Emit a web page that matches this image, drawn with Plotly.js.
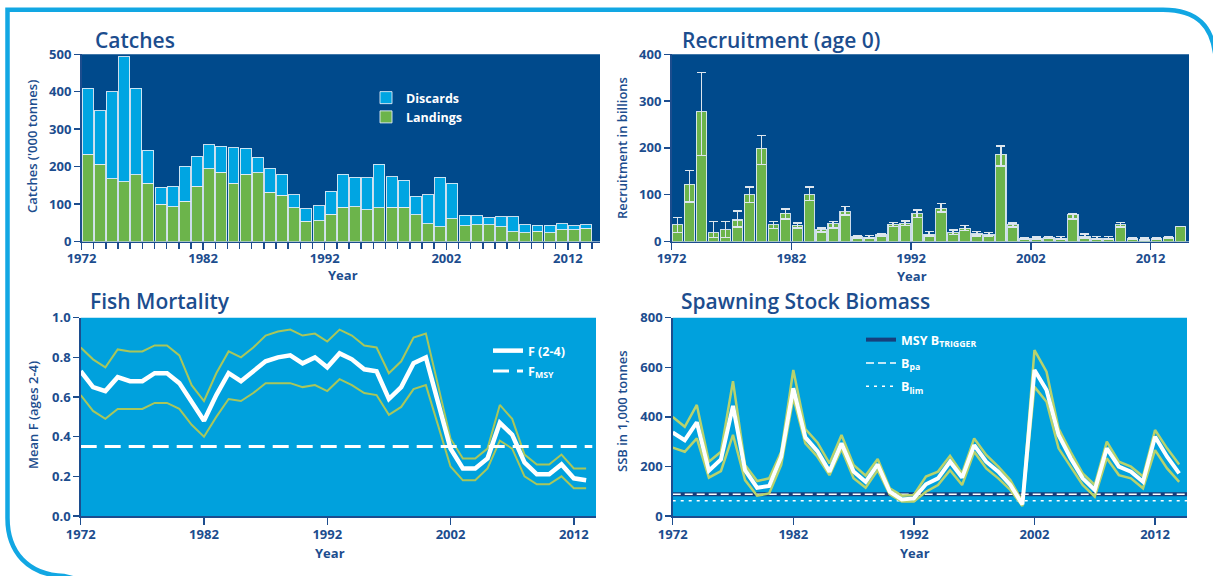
<!DOCTYPE html>
<html><head><meta charset="utf-8">
<script src="https://cdn.plot.ly/plotly-3.0.1.min.js"></script>
<style>html,body{margin:0;padding:0;background:#fff;}#chart{width:1213px;height:576px;}</style>
</head><body><div id="chart"></div>
<script>
function yearsFrom(a, b){ const r=[]; for(let y=a;y<=b;y++) r.push(y); return r; }

// ---- Catches ('000 tonnes), 1972-2013
const catchYears = yearsFrom(1972, 2013);
const landings = [233,207,167,160,178,156,99,93,108,147, 194,185,156,180,183,132,123,90,54,56,
                  73,92,93,85,90,91,91,71,47,40, 61,42,45,45,39,26,24,27,24,32, 32,36];
const discards = [177,142,233,334,232,88,46,54,93,81, 65,69,94,69,42,63,57,35,34,40,
                  61,87,78,85,116,82,72,50,78,131, 94,28,24,18,27,40,21,16,19,15, 10,9];

// ---- Recruitment (age 0), billions, 1972-2014
const recYears = yearsFrom(1972, 2014);
const recruitment = [36,122,277,19,25,46,100,199,36,60, 35,100,25,38,64,10,9,14,37,38,
                     59,15,71,19,28,16,14,186,36,6, 7,8,7,57,11,7,7,36,6,4, 6,9,32];
const recLow  = [19,84,184,9,9,31,83,165,28,48, 29,88,20,29,57,8,7,11,32,34,
                 51,12,63,15,24,12,11,161,31,4, 5,6,5,48,8,5,5,31,4,3, 4,7,32];
const recHigh = [51,152,361,43,43,65,116,227,43,69, 40,116,29,43,75,12,13,16,41,44,
                 67,21,81,25,34,21,19,204,40,8, 10,11,11,59,16,11,11,41,8,7, 8,11,32];

// ---- Fishing mortality F(2-4), 1972-2013
const fYears = yearsFrom(1972, 2013);
const fMean = [0.73,0.65,0.63,0.70,0.68,0.68,0.72,0.72,0.67,0.57, 0.48,0.61,0.72,0.68,0.73,0.78,0.80,0.81,0.77,0.80,
               0.75,0.82,0.79,0.74,0.73,0.59,0.65,0.77,0.80,0.57, 0.34,0.24,0.24,0.29,0.47,0.41,0.27,0.21,0.21,0.26, 0.19,0.18];
const fHigh = [0.85,0.79,0.75,0.84,0.83,0.83,0.86,0.86,0.81,0.66, 0.58,0.72,0.83,0.80,0.85,0.91,0.93,0.94,0.91,0.92,
               0.88,0.94,0.91,0.86,0.85,0.72,0.78,0.90,0.92,0.66, 0.39,0.29,0.29,0.34,0.56,0.49,0.31,0.26,0.26,0.31, 0.24,0.24];
const fLow  = [0.61,0.53,0.49,0.54,0.54,0.54,0.57,0.57,0.54,0.46, 0.40,0.50,0.59,0.58,0.62,0.67,0.67,0.67,0.65,0.66,
               0.63,0.69,0.66,0.62,0.61,0.51,0.55,0.64,0.66,0.46, 0.25,0.18,0.18,0.24,0.38,0.34,0.20,0.16,0.16,0.20, 0.14,0.14];
const FMSY = 0.35;

// ---- Spawning stock biomass ('000 t), 1972-2014
const ssbYears = yearsFrom(1972, 2014);
const ssb     = [337,306,378,183,228,444,185,114,121,239, 515,317,262,179,293,179,138,208,98,67,
                 71,128,152,219,155,286,219,179,125,47, 589,508,327,233,152,105,273,199,179,138, 320,239,172];
const ssbHigh = [400,360,448,219,259,544,206,141,152,259, 589,351,297,212,327,206,163,230,112,82,
                 85,159,179,243,172,313,246,199,145,58, 669,582,353,259,172,125,300,219,199,159, 347,273,208];
const ssbLow  = [276,259,313,155,181,327,145,82,91,206, 477,293,239,165,270,152,114,185,87,58,
                 58,98,125,185,125,259,192,152,105,40, 521,461,273,199,125,78,233,165,152,112, 266,192,138];
const BTRIGGER = 88, BPA = 88, BLIM = 62;

// ---- styling
const W = 1213, H = 576;
const px = x => x / W, py = y => 1 - y / H;
const NAVY = '#1c4d8e', DARK = '#004a8c', LIGHT = '#00a1dd', DISC = '#00a5e2', GREEN = '#6cb44b';
const BAND_F = '#a9c65b', BAND_S = '#b8d26c', FONT = "'Open Sans', 'Noto Sans', sans-serif";
const tickFont = {family: FONT, size: 13, color: NAVY, weight: 'bold'};

function xAxis(dom, range, anchor, minor, standoff){
  const a = {domain: dom, range: range, anchor: anchor, tick0: 1972, dtick: 10, ticks: 'outside', ticklen: 7,
    tickwidth: 1.5, tickcolor: NAVY, showline: true, linecolor: NAVY, linewidth: 1.5, showgrid: false,
    zeroline: false, tickfont: tickFont, fixedrange: true, ticklabelstandoff: standoff};
  if (minor) a.minor = {dtick: 1, tick0: 1972, ticks: 'outside', ticklen: 6, tickwidth: 1.5, tickcolor: NAVY, showgrid: false};
  return a;
}
function yAxis(dom, range, dtick, anchor, fmt){
  return {domain: dom, range: range, dtick: dtick, anchor: anchor, ticks: 'outside', ticklen: 6,
    tickwidth: 1.5, tickcolor: NAVY, showline: true, linecolor: NAVY, linewidth: 1.5, showgrid: false,
    zeroline: false, tickfont: tickFont, tickformat: fmt || '', fixedrange: true};
}

const barLine = {color: 'rgba(225,236,246,0.9)', width: 1};
const traces = [
  {type: 'bar', x: catchYears, y: landings, name: 'Landings', xaxis: 'x', yaxis: 'y', offset: 0.05, width: 0.9,
   marker: {color: GREEN, line: barLine}, legend: 'legend'},
  {type: 'bar', x: catchYears, y: discards, name: 'Discards', xaxis: 'x', yaxis: 'y', offset: 0.05, width: 0.9,
   marker: {color: DISC, line: barLine}, legend: 'legend'},
  {type: 'bar', x: recYears, y: recruitment, name: 'Recruitment', xaxis: 'x2', yaxis: 'y2', offset: 0.07, width: 0.86,
   marker: {color: GREEN, line: {color: 'rgba(225,236,246,0.9)', width: 1.2}}, showlegend: false,
   error_y: {type: 'data', symmetric: false,
     array: recHigh.map((v, i) => v - recruitment[i]),
     arrayminus: recruitment.map((v, i) => v - recLow[i]),
     color: '#dde6ee', thickness: 1.5, width: 4.5}},
  {type: 'scatter', mode: 'lines', x: fYears, y: fHigh, xaxis: 'x3', yaxis: 'y3', line: {color: BAND_F, width: 2}, showlegend: false},
  {type: 'scatter', mode: 'lines', x: fYears, y: fLow, xaxis: 'x3', yaxis: 'y3', line: {color: BAND_F, width: 2}, showlegend: false},
  {type: 'scatter', mode: 'lines', x: fYears, y: fMean, xaxis: 'x3', yaxis: 'y3', name: 'F (2-4)',
   line: {color: '#ffffff', width: 4.5}, legend: 'legend2', legendgroup: 'f1'},
  {type: 'scatter', mode: 'lines', x: [1972, 2013.5], y: [FMSY, FMSY], xaxis: 'x3', yaxis: 'y3', name: 'F<sub>MSY</sub>',
   line: {color: '#ffffff', width: 3, dash: '16px,8px'}, legend: 'legend2', legendgroup: 'f2'},
  {type: 'scatter', mode: 'lines', x: [1972, 2014.65], y: [BTRIGGER, BTRIGGER], xaxis: 'x4', yaxis: 'y4',
   name: 'MSY B<sub>TRIGGER</sub>', line: {color: '#163f7c', width: 4}, legend: 'legend3', legendgroup: 's1'},
  {type: 'scatter', mode: 'lines', x: [1972, 2014.65], y: [BPA, BPA], xaxis: 'x4', yaxis: 'y4',
   name: 'B<sub>pa</sub>', line: {color: '#ffffff', width: 1.5, dash: '8px,4px'}, legend: 'legend3', legendgroup: 's2'},
  {type: 'scatter', mode: 'lines', x: [1972, 2014.65], y: [BLIM, BLIM], xaxis: 'x4', yaxis: 'y4',
   name: 'B<sub>lim</sub>', line: {color: '#ffffff', width: 1.5, dash: '3px,5px'}, legend: 'legend3', legendgroup: 's3'},
  {type: 'scatter', mode: 'lines', x: ssbYears, y: ssbHigh, xaxis: 'x4', yaxis: 'y4', line: {color: BAND_S, width: 2.5}, showlegend: false},
  {type: 'scatter', mode: 'lines', x: ssbYears, y: ssbLow, xaxis: 'x4', yaxis: 'y4', line: {color: BAND_S, width: 2.5}, showlegend: false},
  {type: 'scatter', mode: 'lines', x: ssbYears, y: ssb, xaxis: 'x4', yaxis: 'y4', line: {color: '#ffffff', width: 4}, showlegend: false}
];

function bg(n, color){
  const s = n === 1 ? '' : String(n);
  return {type: 'rect', xref: 'x' + s + ' domain', yref: 'y' + s + ' domain', x0: 0, x1: 1, y0: 0, y1: 1,
          fillcolor: color, line: {width: 0}, layer: 'below'};
}
const P = (x, y) => px(x).toFixed(5) + ',' + py(y).toFixed(5);
const borderPath = 'M' + P(1163, 9.7) + ' L' + P(7.5, 9.7) + ' L' + P(7.5, 518) +
  ' C' + P(7.5, 552) + ' ' + P(28, 575) + ' ' + P(64, 576) + ' L' + P(80, 580) +
  ' M' + P(1163, 9.7) + ' C' + P(1196, 9.7) + ' ' + P(1214, 25) + ' ' + P(1216, 62) + ' L' + P(1217, 580);

function ann(text, x, y, size, opts){
  return Object.assign({text: text, x: px(x), y: py(y), xref: 'paper', yref: 'paper', showarrow: false,
    xanchor: 'left', yanchor: 'middle', font: {family: FONT, size: size, color: NAVY}}, opts || {});
}
const titleFont = {family: FONT, size: 21, color: NAVY, weight: 600};
const axFont = {family: FONT, size: 13, color: NAVY, weight: 600};
const yearFont = {family: FONT, size: 13, color: NAVY, weight: 'bold'};
const annotations = [
  ann('Catches', 93, 40, 21, {font: titleFont}),
  ann('Recruitment (age 0)', 680, 40, 21, {font: titleFont}),
  ann('Fish Mortality', 88, 301, 21, {font: titleFont}),
  ann('Spawning Stock Biomass', 679, 301, 21, {font: titleFont}),
  ann("Catches ('000 tonnes)", 32, 147, 13, {xanchor: 'center', textangle: -90, font: axFont}),
  ann('Recruitment in billions', 622, 148, 13, {xanchor: 'center', textangle: -90, font: axFont}),
  ann('Mean F (ages 2-4)', 33, 415, 13, {xanchor: 'center', textangle: -90, font: axFont}),
  ann('SSB in 1,000 tonnes', 622, 411, 13, {xanchor: 'center', textangle: -90, font: axFont}),
  ann('Year', 343, 275, 13, {xanchor: 'center', font: yearFont}),
  ann('Year', 912, 276, 13, {xanchor: 'center', font: yearFont}),
  ann('Year', 330, 553, 13, {xanchor: 'center', font: yearFont}),
  ann('Year', 915, 553, 13, {xanchor: 'center', font: yearFont})
];

const legFont = {family: FONT, size: 12.5, color: '#ffffff', weight: 'bold'};
const layout = {
  width: W, height: H, autosize: false, margin: {l: 0, r: 0, t: 0, b: 0},
  paper_bgcolor: '#ffffff', plot_bgcolor: 'rgba(0,0,0,0)', barmode: 'stack', bargap: 0,
  font: {family: FONT, color: NAVY},
  xaxis: xAxis([px(81.5), px(600)], [1972, 2014.64], 'y', true, -3),
  yaxis: yAxis([py(241.5), py(54.3)], [0, 500], 100, 'x'),
  xaxis2: xAxis([px(671.5), px(1189)], [1972, 2015.2], 'y2', false, -3),
  yaxis2: yAxis([py(241.5), py(54.3)], [0, 400], 100, 'x2'),
  xaxis3: xAxis([px(80.7), px(596)], [1972, 2013.8], 'y3', false, -1),
  yaxis3: yAxis([py(516), py(317.7)], [0, 1], 0.2, 'x3', '.1f'),
  xaxis4: xAxis([px(672.7), px(1187)], [1972, 2014.65], 'y4', false, -1),
  yaxis4: yAxis([py(516), py(317.7)], [0, 800], 200, 'x4'),
  legend: {x: px(366), y: py(83), xanchor: 'left', yanchor: 'top', bgcolor: 'rgba(0,0,0,0)',
           font: legFont, traceorder: 'reversed', itemwidth: 30, tracegroupgap: 0},
  legend2: {x: px(488), y: py(336), xanchor: 'left', yanchor: 'top', bgcolor: 'rgba(0,0,0,0)',
            font: legFont, itemwidth: 30, tracegroupgap: 1, traceorder: 'grouped'},
  legend3: {x: px(861), y: py(325), xanchor: 'left', yanchor: 'top', bgcolor: 'rgba(0,0,0,0)',
            font: legFont, itemwidth: 30, tracegroupgap: 4, traceorder: 'grouped'},
  shapes: [bg(1, DARK), bg(2, DARK), bg(3, LIGHT), bg(4, LIGHT),
    {type: 'path', xref: 'paper', yref: 'paper', path: borderPath, line: {color: '#12a7e3', width: 4.5}, layer: 'above'}],
  annotations: annotations
};

Plotly.newPlot('chart', traces, layout, {displayModeBar: false, staticPlot: true});
</script>
</body></html>
